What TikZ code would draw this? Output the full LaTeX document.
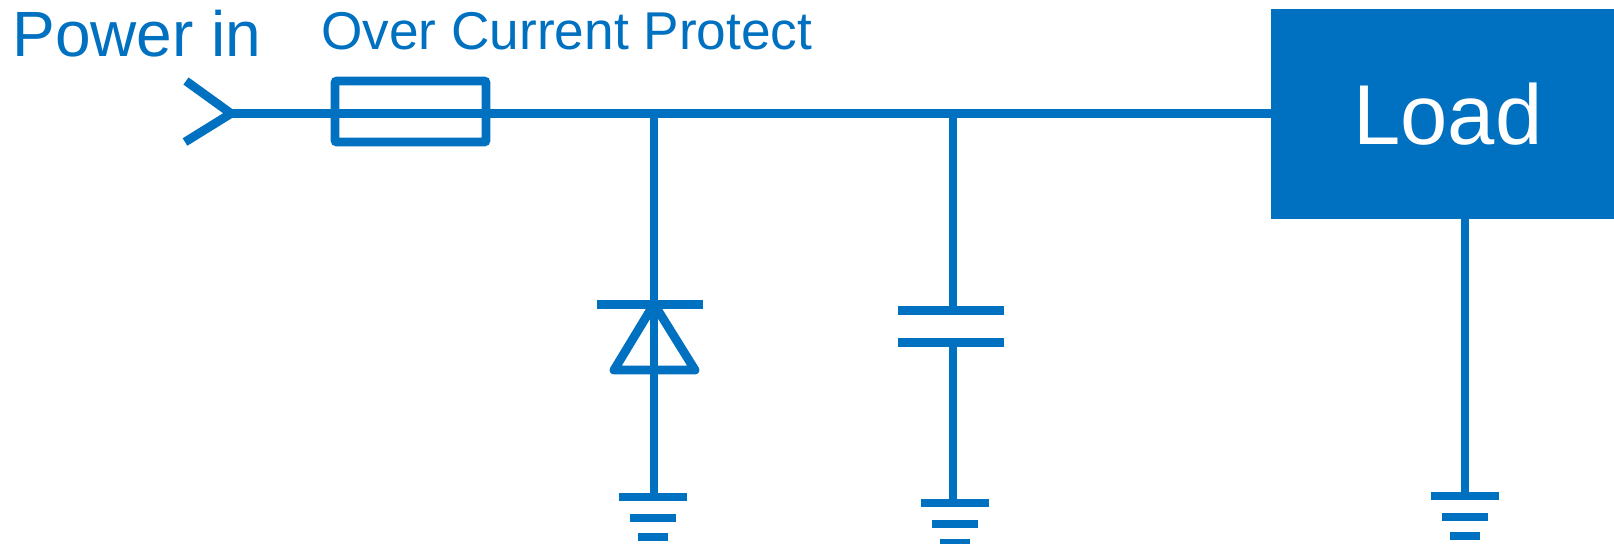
\documentclass[tikz,border=0pt]{standalone}
\usepackage{fontspec}
\setmainfont{Liberation Sans}
\definecolor{wireblue}{HTML}{0070C0}

\begin{document}
\begin{tikzpicture}[
        x=0.5pt,
        y=-0.5pt,
        wire/.style={
          draw=wireblue,
          line width=4.4pt
          },
        caption/.style={
          text=wireblue,
          inner sep=0pt,
          anchor=base west
          },
        fuse/.style={
          wire,
          fill=none,
          rectangle,
          rounded corners=1pt,
          inner sep=0pt,
          minimum width=75.5pt,
          minimum height=30.5pt
          },
        loadbox/.style={
          fill=wireblue,
          rectangle,
          inner sep=0pt,
          minimum width=171.5pt,
          minimum height=105pt
          }
        ]
        \useasboundingbox (0,0) rectangle (1614,543);
        % labels
        \node[caption,font=\fontsize{32}{38}\selectfont] (powerin) at (12,56) {Power in};
        \node[caption,font=\fontsize{26.6}{32}\selectfont] (ocp) at (321,49) {Over Current Protect};
        % main line
        \coordinate (tip) at (231,113.5);
        \coordinate (arma) at (186,81);
        \coordinate (armb) at (185,142);
        \node[loadbox] (load) at (1442.5,113.5) {};
        \node[caption,text=white,font=\fontsize{42.5}{50}\selectfont] (loadname) at (1353,144.5) {Load};
        \draw[wire] (tip) -- (load.west);
        \draw[wire] (arma) -- (tip) -- (armb);
        \node[fuse] (otp) at (410.5,111.5) {};
        % diode branch
        \coordinate (dtop) at (654,113);
        \coordinate (dkath) at (654,304);
        \coordinate (dleft) at (614,370);
        \coordinate (dright) at (695,370);
        \coordinate (dbot) at (654,497);
        \draw[wire] (dtop) -- (dbot);
        \draw[wire] (597,304.5) -- (703,304.5);
        \draw[wire,line join=round] (dkath) -- (dleft) -- (dright) -- cycle;
        % capacitor branch
        \coordinate (ctop) at (953,117);
        \coordinate (cupper) at (953,310);
        \coordinate (clower) at (953,342);
        \coordinate (cbot) at (953,503);
        \draw[wire] (ctop) -- (cupper);
        \draw[wire] (clower) -- (cbot);
        \draw[wire] (898,310.5) -- (1004,310.5);
        \draw[wire] (898,342.5) -- (1004,342.5);
        % load return
        \coordinate (lbot) at (1465,496);
        \draw[wire] (load.south -| lbot) -- (lbot);
        % grounds
        \foreach \gx/\gy in {653/497,955/503,1465/496}
        {\foreach \hw/\dy in {34/0,23/21,15/40}
          \draw[wire] (\gx-\hw,\gy+\dy) -- (\gx+\hw,\gy+\dy);
        }
        \end{tikzpicture}
\end{document}
